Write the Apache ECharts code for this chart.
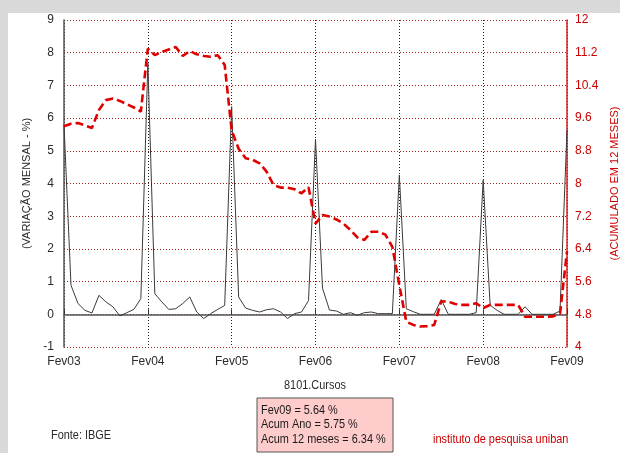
<!DOCTYPE html>
<html>
<head>
<meta charset="utf-8">
<script src="https://cdn.jsdelivr.net/npm/echarts@6/dist/echarts.min.js"></script>
<style>
html,body{margin:0;padding:0;background:#d9d9d9;overflow:hidden;}
#wrap{position:relative;width:620px;height:453px;background:#d9d9d9;overflow:hidden;}
#panel{position:absolute;left:8px;top:13px;width:612px;height:440px;background:#ffffff;}
#chart{position:absolute;left:0;top:0;width:620px;height:453px;}
</style>
</head>
<body>
<div id="wrap"><div id="panel"></div><div id="chart"></div></div>
<script>
// Year tick labels (one every 12 months, Feb 2003 .. Feb 2009)
const tickLabels = ["Fev03","Fev04","Fev05","Fev06","Fev07","Fev08","Fev09"];

// Monthly variation (%), left axis, Feb03 .. Feb09
const variacaoMensal = [
  5.8, 0.89, 0.33, 0.12, 0.04, 0.58, 0.38, 0.23, -0.05, 0.05, 0.15, 0.48,
  7.68, 0.63, 0.38, 0.15, 0.17, 0.33, 0.53, 0.07, -0.13, 0.02, 0.15, 0.27,
  6.35, 0.53, 0.19, 0.12, 0.07, 0.14, 0.17, 0.07, -0.13, 0.02, 0.07, 0.42,
  5.35, 0.8, 0.13, 0.1, 0.0, 0.05, -0.03, 0.05, 0.07, 0.02, 0.02, 0.02,
  4.26, 0.17, 0.08, 0.0, 0.0, 0.0, 0.45, 0.0, 0.0, 0.0, 0.0, 0.05,
  4.1, 0.28, 0.12, 0.0, 0.0, 0.0, 0.23, 0.0, 0.0, 0.0, 0.0, 0.1,
  5.64
];

// Accumulated 12 months (%), right axis, Feb03 .. Feb09
const acumulado12m = [
  9.40, 9.46, 9.48, 9.42, 9.36, 9.80, 10.04, 10.08, 10.02, 9.94, 9.86, 9.76,
  11.30, 11.14, 11.22, 11.28, 11.34, 11.12, 11.24, 11.16, 11.12, 11.10, 11.14, 10.90,
  9.30, 8.85, 8.62, 8.58, 8.49, 8.29, 7.96, 7.90, 7.90, 7.86, 7.76, 7.91,
  7.02, 7.23, 7.19, 7.12, 7.02, 6.86, 6.68, 6.62, 6.82, 6.82, 6.75, 6.45,
  5.51, 4.62, 4.54, 4.50, 4.51, 4.54, 5.12, 5.11, 5.05, 5.03, 5.03, 5.07,
  4.95, 5.03, 5.03, 5.03, 5.03, 5.03, 4.74, 4.74, 4.74, 4.74, 4.75, 4.82,
  6.34
];

const seriesName = "8101.Cursos";
const captionLines = ["Fev09 = 5.64 %", "Acum Ano = 5.75 %", "Acum 12 meses = 6.34 %"];
const sourceText = "Fonte: IBGE";
const brandText = "instituto de pesquisa uniban";

const FONT = "'Liberation Sans',Arial,sans-serif";
const TXT = '#2b2b2b';
const RED = '#cc0000';
const SX = 0.84; // horizontal squeeze for free texts (narrow look)

const chart = echarts.init(document.getElementById('chart'), null, {renderer:'canvas'});

function narrowText(str, x, y, color, align) {
  return {type: 'text', x: x, y: y, scaleX: SX, z: 11,
    style: {text: str, fill: color, font: '13px ' + FONT, textAlign: align || 'left', textVerticalAlign: 'middle'}};
}

const option = {
  backgroundColor: 'transparent',
  animation: false,
  textStyle: {fontFamily: FONT},
  grid: {left: 64, right: 53, top: 20, bottom: 106, containLabel: false, outerBoundsMode: 'none'},
  xAxis: {
    type: 'value', min: 0, max: 72, interval: 12,
    axisLine: {show: true, lineStyle: {color: '#555', width: 1.5}},
    axisTick: {show: true, inside: true, length: 5, lineStyle: {color: '#333'}},
    axisLabel: {
      color: TXT, fontFamily: FONT, fontSize: 12, margin: 9,
      formatter: v => tickLabels[Math.round(v / 12)] || ''
    },
    splitLine: {show: true, lineStyle: {color: '#222', type: [1, 2], width: 1}}
  },
  yAxis: [
    {
      type: 'value', min: -1, max: 9, interval: 1,
      name: '(VARIAÇÃO MENSAL - %)', nameLocation: 'middle', nameRotate: 90, nameGap: 31,
      nameTextStyle: {color: TXT, fontFamily: FONT, fontSize: 11},
      axisLine: {show: true, lineStyle: {color: '#555', width: 1.5}},
      axisTick: {show: false},
      axisLabel: {color: TXT, fontFamily: FONT, fontSize: 12, margin: 10},
      splitLine: {show: true, lineStyle: {color: '#a02020', type: [1, 2], width: 1}}
    },
    {
      type: 'value', min: 4, max: 12, interval: 0.8, position: 'right',
      name: '(ACUMULADO EM 12 MESES)', nameLocation: 'middle', nameRotate: 90, nameGap: 38,
      nameTextStyle: {color: RED, fontFamily: FONT, fontSize: 11},
      axisLine: {show: true, lineStyle: {color: '#d42020', width: 1.5}},
      axisTick: {show: false},
      axisLabel: {color: RED, fontFamily: FONT, fontSize: 12, margin: 8,
        formatter: v => String(Number(v.toFixed(1)))},
      splitLine: {show: false}
    }
  ],
  series: [
    {
      name: 'mensal', type: 'line', yAxisIndex: 0, z: 3,
      data: variacaoMensal.map((v, i) => [i, v]),
      symbol: 'none', smooth: false,
      lineStyle: {color: '#3a3a3a', width: 1}
    },
    {
      name: 'acum', type: 'line', yAxisIndex: 1, z: 4,
      data: acumulado12m.map((v, i) => [i, v]),
      symbol: 'none', smooth: false,
      lineStyle: {color: '#e00000', width: 2.6, type: [8, 4]}
    }
  ],
  graphic: [
    narrowText(seriesName, 315, 385, TXT, 'center'),
    {type: 'rect', shape: {x: 257, y: 398, width: 136, height: 54},
     style: {fill: '#ffcccc', stroke: '#555', lineWidth: 1}, z: 10},
    narrowText(captionLines[0], 261, 410, '#1a1a1a'),
    narrowText(captionLines[1], 261, 424.5, '#1a1a1a'),
    narrowText(captionLines[2], 261, 439, '#1a1a1a'),
    narrowText(sourceText, 51, 435, TXT),
    narrowText(brandText, 433, 439, RED)
  ]
};
chart.setOption(option);
</script>
</body>
</html>
